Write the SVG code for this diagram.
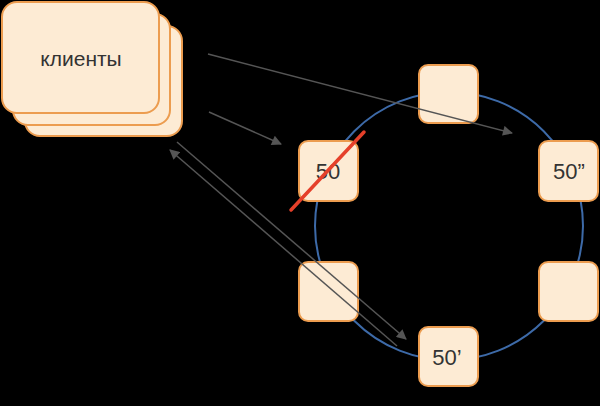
<svg xmlns="http://www.w3.org/2000/svg" width="600" height="406" viewBox="0 0 600 406">
<style>
.box{fill:#fdebd4;stroke:#ec9c4f;stroke-width:2}
.lbl{font-family:"Liberation Sans",Arial,sans-serif;fill:#333;text-anchor:middle}
.conn{stroke:#555;stroke-width:1.5;fill:none}
</style>
<defs>
<marker id="ah" viewBox="0 0 10 10" refX="9" refY="5" markerWidth="11" markerHeight="10" markerUnits="userSpaceOnUse" orient="auto">
<path d="M0,0 L10,5 L0,10 z" fill="#555"/>
</marker>
</defs>
<rect x="0" y="0" width="600" height="406" fill="#000"/>
<circle id="ring" cx="449" cy="226" r="134" fill="none" stroke="#3d6aa8" stroke-width="2"/>
<g id="clients">
<rect class="box" x="25" y="26" width="157" height="110" rx="15"/>
<rect class="box" x="13" y="14" width="157" height="111" rx="15"/>
<rect class="box" x="2" y="2" width="157" height="111" rx="15"/>
<text class="lbl" x="81" y="66" font-size="21">клиенты</text>
</g>
<g id="node-top"><rect class="box" x="419" y="65" width="59" height="58" rx="9"/></g>
<g id="node-50"><rect class="box" x="299" y="141" width="59" height="60" rx="9"/><text class="lbl" x="328" y="179" font-size="22">50</text></g>
<g id="node-50dd"><rect class="box" x="539" y="141" width="59" height="60" rx="9"/><text class="lbl" x="569" y="179" font-size="22">50”</text></g>
<g id="node-lb"><rect class="box" x="299" y="262" width="59" height="59" rx="9"/></g>
<g id="node-rb"><rect class="box" x="539" y="262" width="59" height="59" rx="9"/></g>
<g id="node-50d"><rect class="box" x="419" y="327" width="59" height="59" rx="9"/><text class="lbl" x="447" y="365" font-size="22">50’</text></g>
<g id="connectors">
<line class="conn" x1="208" y1="54" x2="512" y2="133" marker-end="url(#ah)"/>
<line class="conn" x1="209" y1="112" x2="281" y2="144" marker-end="url(#ah)"/>
<line class="conn" x1="177" y1="142" x2="406" y2="339" marker-end="url(#ah)"/>
<line class="conn" x1="397" y1="346" x2="170" y2="150" marker-end="url(#ah)"/>
</g>
<line id="strike" x1="291" y1="210" x2="364" y2="132" stroke="#e5402a" stroke-width="3.5" stroke-linecap="round"/>
</svg>
